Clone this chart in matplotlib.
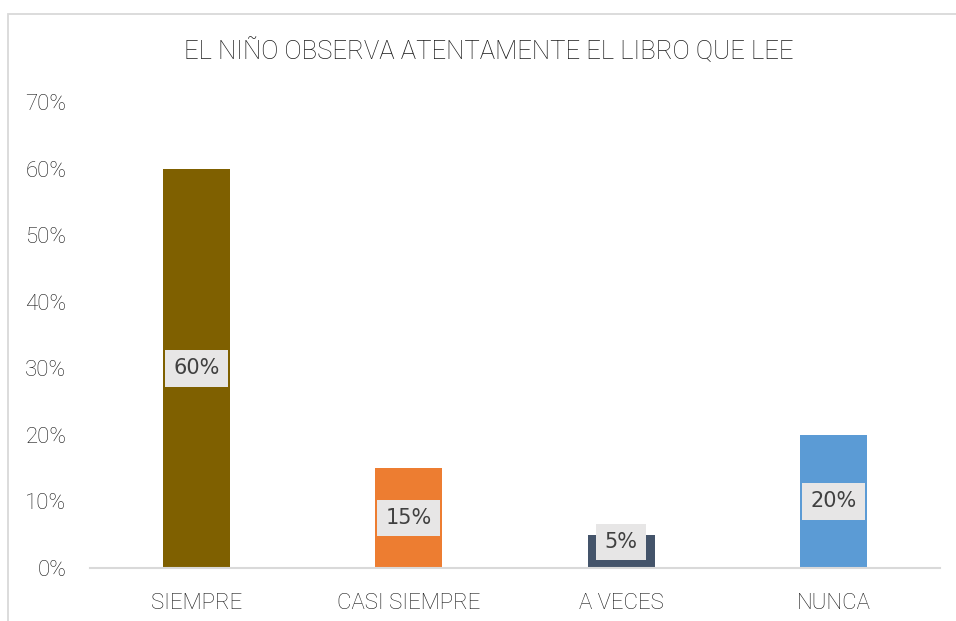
import matplotlib
matplotlib.use("Agg")
import matplotlib.pyplot as plt
from matplotlib.patches import Rectangle
from matplotlib.ticker import PercentFormatter

categories = ["SIEMPRE", "CASI SIEMPRE", "A VECES", "NUNCA"]
values = [0.60, 0.15, 0.05, 0.20]
colors = ["#7F6000", "#ED7D31", "#44546A", "#5B9BD5"]
title = "EL NIÑO OBSERVA ATENTAMENTE EL LIBRO QUE LEE"

plt.rcParams["font.family"] = ["DejaVu Sans"]
txt = "#404040"
dark = "#1a1a1a"

fig = plt.figure(figsize=(9.56, 6.21), dpi=100)
fig.patch.set_facecolor("white")
# chart frame (partly cropped)
frame = Rectangle((8/956, -0.1), 2, (621-14)/621 + 0.1,
                  transform=fig.transFigure, fill=False,
                  edgecolor="#D9D9D9", linewidth=1.3, clip_on=False)
fig.add_artist(frame)

ax = fig.add_axes([90/956, 53/621, 850/956, 466/621])
x = list(range(len(categories)))
ax.bar(x, values, width=0.315, color=colors, zorder=2)
ax.set_xlim(-0.5, len(categories) - 0.5)
ax.set_ylim(0, 0.7)
ax.yaxis.set_major_formatter(PercentFormatter(1.0, decimals=0))
ax.set_yticks([i / 10 for i in range(8)])
ax.set_xticks(x)
ax.set_xticklabels(categories)
for s in ["top", "right", "left"]:
    ax.spines[s].set_visible(False)
ax.spines["bottom"].set_color("#D9D9D9")
ax.spines["bottom"].set_linewidth(1.5)
ax.tick_params(axis="both", length=0, colors=dark, labelsize=16)
ax.tick_params(axis="y", pad=17)
ax.tick_params(axis="x", pad=18)
for lab in ax.get_yticklabels() + ax.get_xticklabels():
    lab.set_fontfamily(["Roboto", "DejaVu Sans"])
    lab.set_fontweight("light")
    lab.set_fontsize(16)

for xi, v in zip(x, values):
    ax.text(xi, max(v / 2, 0.039), f"{round(v*100)}%", ha="center",
            va="center", fontsize=15, color=txt, zorder=3,
            bbox=dict(boxstyle="square,pad=0.4", facecolor="#E7E6E6",
                      edgecolor="none"))

fig.text(489/956, 1 - 51/621, title, ha="center", va="center",
         fontsize=18.5, color=dark, family=["Roboto", "DejaVu Sans"],
         fontweight="light")

fig.savefig("out.png", dpi=100, facecolor="white")
